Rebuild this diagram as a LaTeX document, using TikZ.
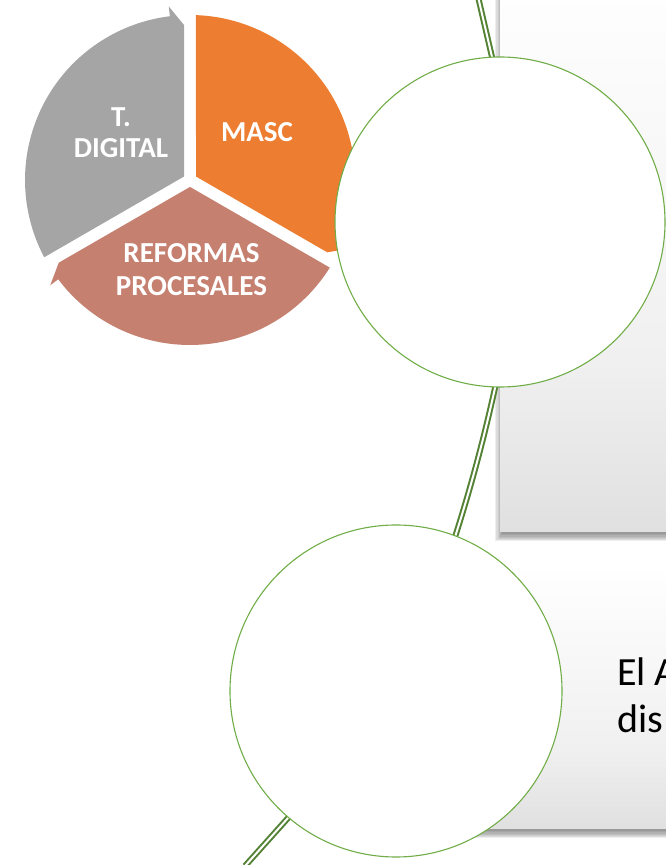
\documentclass[tikz,border=0pt]{standalone}
\usepackage{fontspec}
\setmainfont{Carlito}
\usetikzlibrary{calc}
\definecolor{orng}{HTML}{ED7D31}
\definecolor{gry}{HTML}{A5A5A5}
\definecolor{pnk}{HTML}{C58070}
\definecolor{dgreen}{HTML}{548235}
\definecolor{lgreen}{HTML}{70AD47}
\definecolor{gE}{HTML}{E0E0E0}
\definecolor{gF}{HTML}{F0F0F0}
\pgfdeclareverticalshading{boxgrad}{100bp}{color(0bp)=(gE); color(25bp)=(gE); color(40bp)=(gF); color(75bp)=(white); color(100bp)=(white)}
\newcommand\cycseg[3]{%
  \fill[#1] ($(pc)+({(#2+#3)/2}:6.93)$) -- ($(pc)+({#3-2.08}:165)$)
    arc[start angle={#3-2.08}, end angle={#2+7}, radius=165pt]
    -- ($(pc)+({#2+7}:175)$) -- ($(pc)+(#2:155)+({#2+90}:6)$) -- cycle;}
\begin{document}
\begin{tikzpicture}[x=1pt,y=1pt,
  segtext/.style={text=white, font=\bfseries\fontsize{29}{31}\selectfont, anchor=base, inner sep=0pt},
  bodytext/.style={text=black, font=\fontsize{40}{47}\selectfont, anchor=base west, inner sep=0pt},
  bubble/.style={circle, draw=lgreen, line width=1.1pt, fill=white, inner sep=0pt},
  linkline/.style={draw=dgreen, line width=2pt, double=white, double distance=2pt},
  boxshade/.style={shading=boxgrad}]
\useasboundingbox (0,0) rectangle (666,865);
\clip (0,0) rectangle (666,865);
% cycle
\coordinate (pc) at (190,685);
\cycseg{orng}{-30}{90}
\cycseg{pnk}{-150}{-30}
\cycseg{gry}{90}{210}
\node[segtext] (t1) at (121,738) {T.};
\node[segtext] (t2) at (121,707) {DIGITAL};
\node[segtext] (masc) at (257,723) {MASC};
\node[segtext] (r1) at (191.5,602) {REFORMAS};
\node[segtext] (r2) at (191.5,569) {PROCESALES};
% boxes with shadows
\foreach \i in {1,...,7}{
  \fill[black, opacity=0.07] (503-1.1*\i, 332-1.2*\i) rectangle (700,900);
  \fill[black, opacity=0.07] (403-1.1*\i, 35-1.2*\i) rectangle (700,302);
}
\path[boxshade] (500,333) rectangle (700,900);
\path[boxshade] (400,36) rectangle (700,302);
% connector
\coordinate (s0) at (476,877);
\coordinate (a1) at (492,808);
\coordinate (a2) at (495,477);
\coordinate (b1) at (455,328);
\coordinate (b2) at (288,47);
\coordinate (e) at (245,-1);
\path[linkline] (s0) -- (a1) .. controls (513,728) and (513,557) .. (a2)
  .. controls (484,427) and (471,378) .. (b1)
  .. controls (423,228) and (348,114) .. (b2) -- (e);
% circles
\node[bubble, minimum size=330pt] (c1) at (500,643) {};
\node[bubble, minimum size=332pt] (c2) at (396,174) {};
% text
\node[bodytext] (el) at (617,179) {El A};
\node[bodytext] (dis) at (617,132) {dis};
\end{tikzpicture}
\end{document}
